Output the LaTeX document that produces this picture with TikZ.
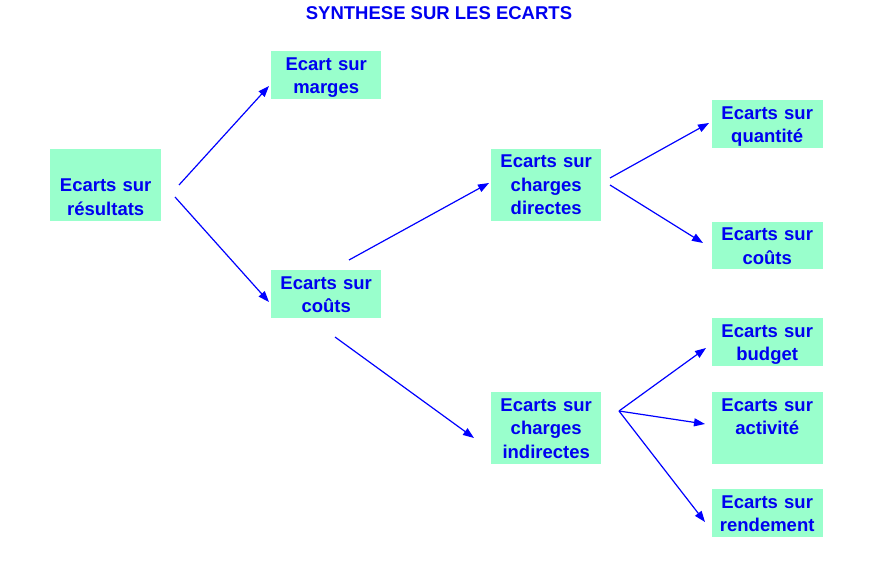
\documentclass[tikz,border=0pt]{standalone}
\usepackage{fontspec}
\setmainfont{Liberation Sans}
\usetikzlibrary{arrows.meta}
\definecolor{boxfill}{HTML}{99FFCC}
\definecolor{txtblue}{HTML}{0000F0}
\newcommand\mystrut{\rule[-5pt]{0pt}{23.5pt}}
\begin{document}
\begin{tikzpicture}[x=1pt,y=-1pt,
  box/.style={fill=boxfill, draw=none, inner sep=0pt, anchor=north west,
    minimum width=111pt, text width=110pt, align=center,
    font=\fontsize{18.5}{23.5}\selectfont\bfseries, text=txtblue},
  two/.style={box, minimum height=48pt},
  three/.style={box, minimum height=72pt},
  conn/.style={draw=blue, line width=1.2pt, -{Triangle[length=11pt,width=8pt]}}
]
\useasboundingbox (0,0) rectangle (881,564);
\node[font=\fontsize{18.5}{22}\selectfont\bfseries, text=txtblue, anchor=base] (title) at (439,20) {SYNTHESE SUR LES ECARTS};

\node[three] (res) at (50,149) {\mystrut\\\mystrut Ecarts sur\\\mystrut résultats};
\node[two, minimum width=110pt] (marg) at (271,51) {\mystrut Ecart sur\\\mystrut marges};
\node[two, minimum width=110pt] (couts) at (271,270) {\mystrut Ecarts sur\\\mystrut coûts};
\node[three, minimum width=110pt] (dir) at (491,148.5) {\mystrut Ecarts sur\\\mystrut charges\\\mystrut directes};
\node[three, minimum width=110pt] (ind) at (491,392) {\mystrut Ecarts sur\\\mystrut charges\\\mystrut indirectes};
\node[two] (qte) at (711.5,100) {\mystrut Ecarts sur\\\mystrut quantité};
\node[box, minimum height=47pt] (cout2) at (711.5,222) {\mystrut Ecarts sur\\\mystrut coûts};
\node[two] (budg) at (711.5,318) {\mystrut Ecarts sur\\\mystrut budget};
\node[three] (act) at (711.5,392) {\mystrut Ecarts sur\\\mystrut activité\\\mystrut};
\node[two] (rend) at (711.5,489) {\mystrut Ecarts sur\\\mystrut rendement};

\coordinate (s1) at (179,185);
\coordinate (e1) at (269,86);
\coordinate (s2) at (175,197);
\coordinate (e2) at (269,302);
\coordinate (s3) at (349,260);
\coordinate (e3) at (489,183);
\coordinate (s4) at (335,337);
\coordinate (e4) at (474,438);
\coordinate (s5) at (610,178);
\coordinate (e5) at (709,123);
\coordinate (s6) at (610,185);
\coordinate (e6) at (703,243);
\coordinate (s7) at (619,411);
\coordinate (e7) at (706,348);
\coordinate (e8) at (705,424);
\coordinate (e9) at (705,522);

\draw[conn] (s1) -- (e1);
\draw[conn] (s2) -- (e2);
\draw[conn] (s3) -- (e3);
\draw[conn] (s4) -- (e4);
\draw[conn] (s5) -- (e5);
\draw[conn] (s6) -- (e6);
\draw[conn] (s7) -- (e7);
\draw[conn] (s7) -- (e8);
\draw[conn] (s7) -- (e9);
\end{tikzpicture}
\end{document}
